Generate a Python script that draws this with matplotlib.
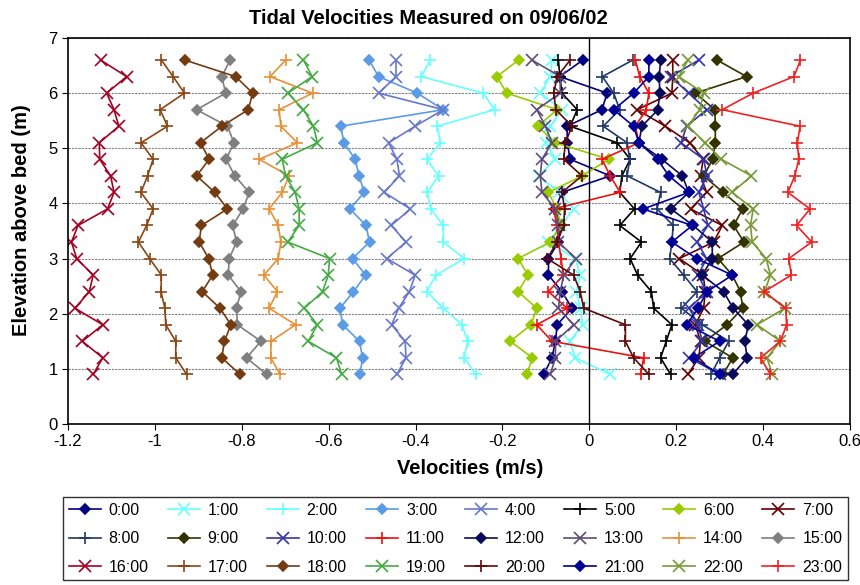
import numpy as np
import matplotlib.pyplot as plt

plt.rcParams['font.family'] = ['Liberation Sans', 'DejaVu Sans']

# elevations (m), bottom to top
elev = [0.9, 1.2, 1.5, 1.8, 2.1, 2.4, 2.7, 3.0, 3.3, 3.6,
        3.9, 4.2, 4.5, 4.8, 5.1, 5.4, 5.7, 6.0, 6.3, 6.6]

labels = ['%d:00' % h for h in range(24)]

xticks = [-1.2, -1.0, -0.8, -0.6, -0.4, -0.2, 0.0, 0.2, 0.4, 0.6]
xticklabels = ['-1.2', '-1', '-0.8', '-0.6', '-0.4', '-0.2', '0', '0.2', '0.4', '0.6']

# velocities (m/s) per hour, bottom to top
v00 = [-0.105, -0.086, -0.078, -0.074, -0.040, -0.063, -0.094, -0.094, -0.071, -0.065,
       -0.078, -0.063, 0.048, -0.044, -0.051, -0.051, 0.029, 0.041, -0.068, -0.015]
v01 = [0.048, -0.032, -0.045, -0.015, -0.020, -0.030, -0.021, -0.032, -0.094, -0.065,
       -0.036, -0.070, -0.117, -0.078, -0.100, -0.090, -0.063, -0.113, -0.090, -0.086]
v02 = [-0.261, -0.288, -0.280, -0.293, -0.336, -0.374, -0.353, -0.288, -0.336, -0.336,
       -0.365, -0.373, -0.347, -0.374, -0.343, -0.350, -0.218, -0.244, -0.387, -0.366]
v03 = [-0.528, -0.522, -0.529, -0.568, -0.574, -0.543, -0.515, -0.545, -0.506, -0.514,
       -0.551, -0.518, -0.530, -0.539, -0.565, -0.572, -0.336, -0.396, -0.485, -0.507]
v04 = [-0.443, -0.422, -0.424, -0.455, -0.439, -0.414, -0.401, -0.466, -0.422, -0.456,
       -0.412, -0.472, -0.437, -0.443, -0.462, -0.401, -0.336, -0.485, -0.445, -0.445]
v05 = [0.187, 0.164, 0.177, 0.190, 0.148, 0.143, 0.111, 0.094, 0.120, 0.070,
       0.104, 0.070, 0.075, 0.094, 0.064, -0.044, -0.028, -0.063, -0.068, -0.071]
v06 = [-0.144, -0.131, -0.182, -0.134, -0.121, -0.164, -0.141, -0.164, -0.090, -0.065,
       -0.075, -0.094, -0.017, 0.045, -0.078, -0.119, -0.074, -0.190, -0.213, -0.163]
v07 = [0.227, 0.252, 0.256, 0.244, 0.263, 0.267, 0.262, 0.207, 0.286, 0.306,
       0.233, 0.270, 0.256, 0.262, 0.231, 0.175, 0.110, 0.190, 0.192, 0.192]
v08 = [0.280, 0.300, 0.321, 0.260, 0.212, 0.248, 0.217, 0.185, 0.190, 0.193,
       0.156, 0.164, 0.087, 0.093, 0.087, 0.032, 0.070, 0.056, 0.030, 0.100]
v09 = [0.308, 0.330, 0.266, 0.317, 0.353, 0.348, 0.329, 0.296, 0.356, 0.332,
       0.353, 0.308, 0.263, 0.284, 0.290, 0.290, 0.289, 0.244, 0.362, 0.294]
v10 = [0.300, 0.230, 0.260, 0.250, 0.230, 0.270, 0.250, 0.270, 0.248, 0.273,
       0.263, 0.252, 0.271, 0.263, 0.211, 0.224, 0.270, 0.229, 0.187, 0.252]
v11 = [0.118, 0.125, -0.086, -0.121, -0.051, -0.094, -0.060, -0.065, -0.071, -0.075,
       -0.082, 0.071, 0.048, 0.029, 0.114, 0.106, 0.131, 0.137, 0.116, 0.106]
v12 = [0.330, 0.363, 0.358, 0.366, 0.331, 0.309, 0.260, 0.283, 0.283, 0.239,
       0.188, 0.229, 0.214, 0.167, 0.114, 0.121, 0.158, 0.162, 0.161, 0.164]
v13 = [-0.090, -0.078, -0.078, -0.036, -0.071, -0.067, -0.059, -0.031, -0.071, -0.071,
       -0.078, -0.109, -0.113, -0.109, -0.086, -0.101, -0.121, -0.067, -0.067, -0.132]
v14 = [-0.712, -0.733, -0.733, -0.676, -0.737, -0.718, -0.749, -0.716, -0.710, -0.716,
       -0.737, -0.707, -0.691, -0.760, -0.672, -0.710, -0.714, -0.637, -0.735, -0.699]
v15 = [-0.743, -0.789, -0.756, -0.810, -0.812, -0.802, -0.831, -0.829, -0.812, -0.821,
       -0.797, -0.783, -0.816, -0.836, -0.818, -0.833, -0.904, -0.837, -0.846, -0.827]
v16 = [-1.142, -1.120, -1.167, -1.120, -1.184, -1.151, -1.142, -1.180, -1.192, -1.177,
       -1.109, -1.094, -1.102, -1.127, -1.128, -1.083, -1.094, -1.111, -1.065, -1.125]
v17 = [-0.927, -0.952, -0.952, -0.975, -0.977, -0.986, -0.985, -1.012, -1.038, -1.019,
       -1.004, -1.032, -1.017, -1.004, -1.032, -0.971, -0.988, -0.932, -0.958, -0.985]
v18 = [-0.804, -0.846, -0.840, -0.825, -0.850, -0.891, -0.867, -0.876, -0.898, -0.893,
       -0.833, -0.862, -0.904, -0.875, -0.895, -0.846, -0.785, -0.775, -0.814, -0.931]
v19 = [-0.570, -0.582, -0.647, -0.626, -0.656, -0.614, -0.601, -0.598, -0.694, -0.668,
       -0.668, -0.677, -0.699, -0.707, -0.626, -0.635, -0.658, -0.694, -0.638, -0.658]
v20 = [0.137, 0.102, 0.083, 0.083, -0.013, -0.021, -0.036, -0.097, -0.074, -0.059,
       -0.057, -0.063, -0.017, -0.059, -0.055, -0.040, -0.077, -0.082, -0.074, -0.044]
v21 = [0.300, 0.240, 0.300, 0.225, 0.250, 0.271, 0.329, 0.247, 0.190, 0.237,
       0.124, 0.229, 0.183, 0.157, 0.114, 0.102, 0.056, 0.102, 0.137, 0.137]
v22 = [0.421, 0.409, 0.440, 0.386, 0.450, 0.403, 0.417, 0.407, 0.375, 0.371,
       0.377, 0.329, 0.373, 0.304, 0.267, 0.227, 0.254, 0.263, 0.206, 0.227]
v23 = [0.417, 0.394, 0.440, 0.454, 0.452, 0.402, 0.465, 0.459, 0.512, 0.477,
       0.508, 0.457, 0.473, 0.482, 0.479, 0.485, 0.306, 0.377, 0.471, 0.486]

series = [v00, v01, v02, v03, v04, v05, v06, v07, v08, v09, v10, v11,
          v12, v13, v14, v15, v16, v17, v18, v19, v20, v21, v22, v23]

colors = ['#000080', '#66ffff', '#66ffff', '#5b9be6', '#6677cc', '#000000',
          '#99cc00', '#660000', '#1f3864', '#333300', '#3333aa', '#ee1111',
          '#0a0a5a', '#5e4b7a', '#e69138', '#7f7f7f', '#a50021', '#8b4513',
          '#743a10', '#44aa44', '#5c0a0a', '#000099', '#779933', '#ee2222']
markers = ['D', 'x', '+', 'D', 'x', '+', 'D', 'x',
           '+', 'D', 'x', '+', 'D', 'x', '+', 'D',
           'x', '+', 'D', 'x', '+', 'D', 'x', '+']

fig = plt.figure(figsize=(8.6, 5.85), dpi=100)
ax = fig.add_axes([68/860, 1 - 424/585, 782/860, 386/585])

lines = []
for v, c, m, lab in zip(series, colors, markers, labels):
    ms = 5.5 if m == 'D' else 8
    ln, = ax.plot(v, elev, color=c, marker=m, markersize=ms, lw=1.2,
                  markeredgewidth=1.2, label=lab)
    lines.append(ln)

ax.set_xlim(-1.2, 0.6)
ax.set_ylim(0, 7)
ax.set_xticks(xticks)
ax.set_xticklabels(xticklabels)
ax.set_yticks(range(8))
ax.tick_params(labelsize=12, direction='out', length=4)
for y in range(1, 8):
    ax.axhline(y, color='#808080', lw=0.8, ls=(0, (2, 1)), zorder=0)
ax.axvline(0, color='black', lw=1)
for s in ax.spines.values():
    s.set_linewidth(1.2)

fig.text(428/860, 1 - 18/585, 'Tidal Velocities Measured on 09/06/02',
         fontsize=14.5, fontweight='bold', ha='center', va='center')
fig.text(470/860, 1 - 468/585, 'Velocities (m/s)',
         fontsize=14.5, fontweight='bold', ha='center', va='center')
fig.text(22/860, 1 - 220/585, 'Elevation above bed (m)', rotation=90,
         fontsize=14.5, fontweight='bold', ha='center', va='center')

# legend filled row by row, 8 columns
order = [r * 8 + j for j in range(8) for r in range(3)]
leg = fig.legend([lines[i] for i in order], [labels[i] for i in order],
                 loc='upper left', bbox_to_anchor=(63/860, 1 - 503/585, 785/860, 0.01),
                 mode='expand', ncol=8, fontsize=11.5, handlelength=2.0,
                 handletextpad=0.5, frameon=True, fancybox=False, edgecolor='black',
                 borderaxespad=0, borderpad=0.35, labelspacing=0.85, columnspacing=1.0)
leg.get_frame().set_linewidth(1)

fig.savefig('out.png', dpi=100)
